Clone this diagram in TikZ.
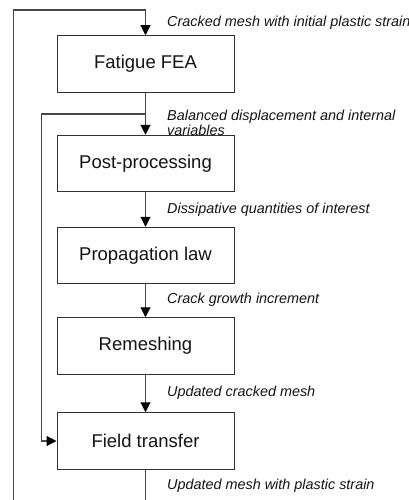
\documentclass[tikz,border=0pt]{standalone}
\usepackage{fontspec}
\setmainfont{Liberation Sans}
\usepackage{xcolor}
\usepackage{tikz}
\usetikzlibrary{positioning,calc,arrows.meta}
\definecolor{LineGray}{RGB}{70,70,70}
\definecolor{BoxGray}{RGB}{50,50,50}
\definecolor{TextDark}{RGB}{20,20,20}
\tikzset{
    stepbox/.style={rectangle, draw=BoxGray, line width=1pt, fill=white, minimum width=177pt, minimum height=56.5pt, inner sep=0pt, text=TextDark, font=\fontsize{18.5}{22}\selectfont},
    flowline/.style={draw=LineGray, line width=1.1pt},
    flowarrow/.style={flowline, -{Triangle[width=10pt,length=10pt,color=black]}},
    datalabel/.style={anchor=west, inner sep=0pt, align=left, text=TextDark, font=\fontsize{14.4}{15.2}\selectfont\itshape}
}
\begin{document}
\begin{tikzpicture}[x=1pt, y=-1pt]

        % --- KHUNG ---
        \clip[use as bounding box] (0,0) rectangle (409,500);

        % --- CÁC BƯỚC ---
        \node[stepbox] (fea) at (145.5,64) {Fatigue FEA};
        \node[stepbox] (post) at (145.5,163.5) {Post-processing};
        \node[stepbox] (prop) at (145.5,255.5) {Propagation law};
        \node[stepbox] (remesh) at (145.5,346) {Remeshing};
        \node[stepbox] (field) at (145.5,441) {Field transfer};

        % --- ĐIỂM PHỤ CHO CÁC VÒNG LẶP ---
        \coordinate (loopT) at (145.5,10);
        \coordinate (loopL) at (13.3,10);
        \coordinate (loopB) at (13.3,505);
        \coordinate (out) at (145.5,505);
        \coordinate (split) at (145.5,114);
        \coordinate (inner) at (41.8,114);

        % --- MŨI TÊN ---
        \draw[flowarrow] (loopB) -- (loopL) -- (loopT) -- (fea.north);
        \draw[flowarrow] (fea) -- (post);
        \draw[flowarrow] (post) -- (prop);
        \draw[flowarrow] (prop) -- (remesh);
        \draw[flowarrow] (remesh) -- (field);
        \draw[flowline] (field) -- (out);
        \draw[flowarrow] (split) -- (inner) |- (field.west);

        % --- NHÃN DỮ LIỆU ---
        \node[datalabel] (l1) at (167,22.7) {Cracked mesh with initial plastic strain};
        \node[datalabel] (l2) at (167,122.5) {Balanced displacement and internal\\variables};
        \node[datalabel] (l3) at (167,210) {Dissipative quantities of interest};
        \node[datalabel] (l4) at (167,300) {Crack growth increment};
        \node[datalabel] (l5) at (167,392.7) {Updated cracked mesh};
        \node[datalabel] (l6) at (167,485.7) {Updated mesh with plastic strain};

    \end{tikzpicture}
\end{document}
